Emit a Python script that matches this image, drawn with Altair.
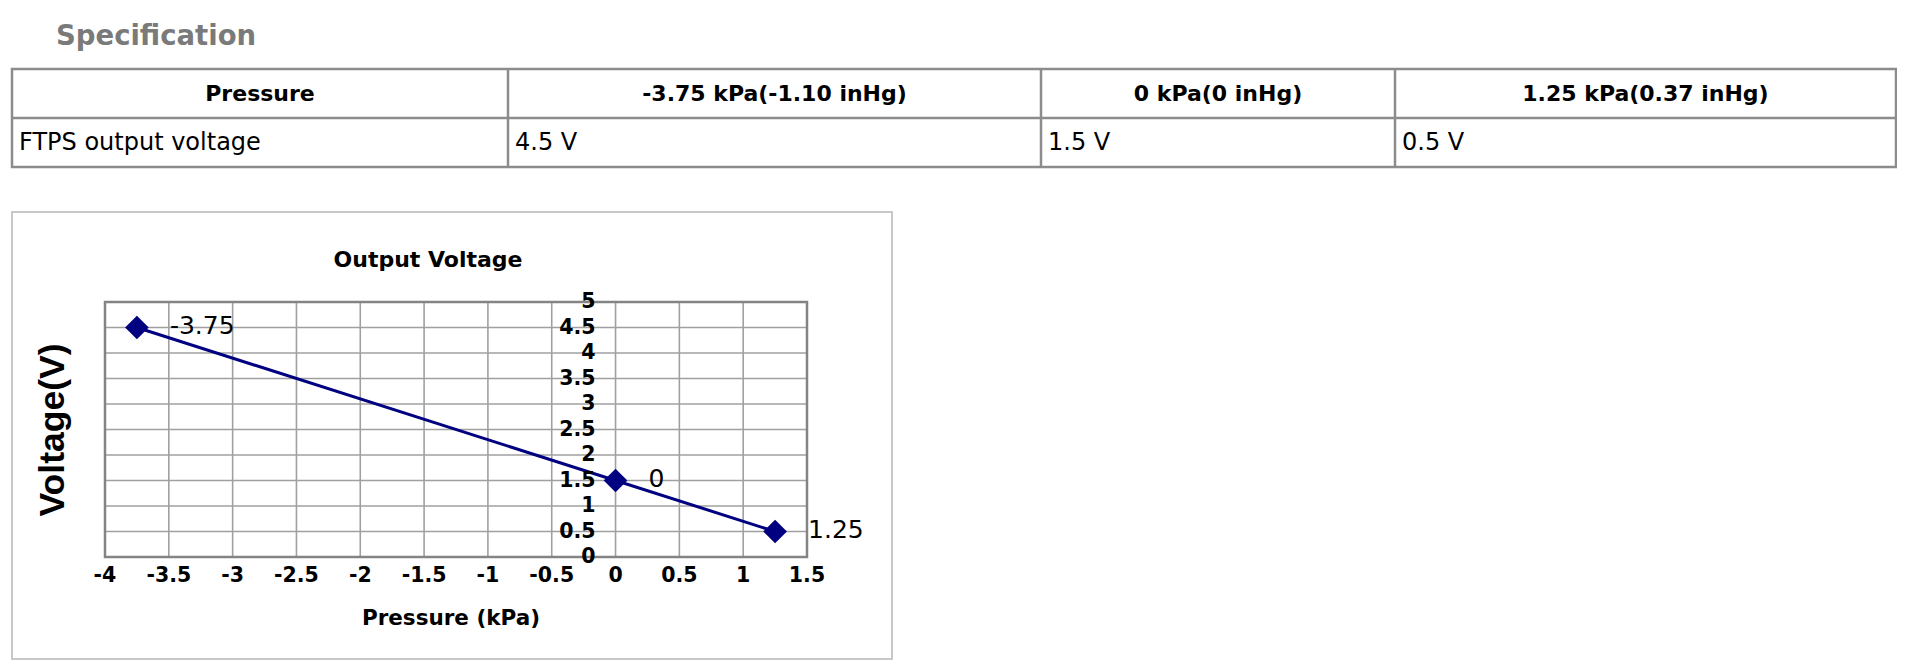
import altair as alt
import pandas as pd

# ---------------- data ----------------
PAGE_TITLE = "Specification"
TABLE_HEADER = ["Pressure", "-3.75 kPa(-1.10 inHg)", "0 kPa(0 inHg)", "1.25 kPa(0.37 inHg)"]
TABLE_ROW = ["FTPS output voltage", "4.5 V", "1.5 V", "0.5 V"]

CHART_TITLE = "Output Voltage"
X_TITLE = "Pressure (kPa)"
Y_TITLE = "Voltage(V)"
PRESSURE_KPA = [-3.75, 0.0, 1.25]
VOLTAGE_V = [4.5, 1.5, 0.5]
POINT_LABELS = ["-3.75", "0", "1.25"]
X_TICKS = [-4, -3.5, -3, -2.5, -2, -1.5, -1, -0.5, 0, 0.5, 1, 1.5]
X_TICK_LABELS = ["-4", "-3.5", "-3", "-2.5", "-2", "-1.5", "-1", "-0.5", "0", "0.5", "1", "1.5"]
Y_TICKS = [0, 0.5, 1, 1.5, 2, 2.5, 3, 3.5, 4, 4.5, 5]
Y_TICK_LABELS = ["0", "0.5", "1", "1.5", "2", "2.5", "3", "3.5", "4", "4.5", "5"]

# ---------------- layout (page pixels) ----------------
PLOT_LEFT, PLOT_TOP, PLOT_W, PLOT_H = 105, 302, 702, 255
SVG_W, SVG_H = 1889, 652
MARGIN = 8
COL_EDGES = [12, 508, 1041, 1395, 1896]
ROW_EDGES = [69, 118, 167]
FRAME = [12, 212, 892, 659]

FONT = "DejaVu Sans"
NAVY = "#000080"
TABLE_LINE = "#8c8c8c"
GRID = "#a0a0a0"


def rx(px):
    return px - PLOT_LEFT


def ry(py):
    return py - PLOT_TOP


one = pd.DataFrame({"k": [0]})
layers = []

# chart frame
layers.append(
    alt.Chart(one).mark_rect(filled=False, stroke="#c8c8c8", strokeWidth=2).encode(
        x=alt.value(rx(FRAME[0])), x2=alt.value(rx(FRAME[2])),
        y=alt.value(ry(FRAME[1])), y2=alt.value(ry(FRAME[3])),
    )
)

# page title
layers.append(
    alt.Chart(one).mark_text(font=FONT, fontSize=27.5, fontWeight="bold", color="#7a7a7a",
                             align="left", baseline="alphabetic").encode(
        x=alt.value(rx(56)), y=alt.value(ry(45)), text=alt.value(PAGE_TITLE)
    )
)

# table outer border
layers.append(
    alt.Chart(one).mark_rect(filled=False, stroke=TABLE_LINE, strokeWidth=2.5).encode(
        x=alt.value(rx(COL_EDGES[0])), x2=alt.value(rx(COL_EDGES[-1])),
        y=alt.value(ry(ROW_EDGES[0])), y2=alt.value(ry(ROW_EDGES[-1])),
    )
)
# row separator
layers.append(
    alt.Chart(one).mark_rule(color=TABLE_LINE, strokeWidth=2.5).encode(
        x=alt.value(rx(COL_EDGES[0])), x2=alt.value(rx(COL_EDGES[-1])),
        y=alt.value(ry(ROW_EDGES[1])),
    )
)
# column separators
for cx in COL_EDGES[1:-1]:
    layers.append(
        alt.Chart(one).mark_rule(color=TABLE_LINE, strokeWidth=2.5).encode(
            x=alt.value(rx(cx)),
            y=alt.value(ry(ROW_EDGES[0])), y2=alt.value(ry(ROW_EDGES[-1])),
        )
    )
# header texts
for i, txt in enumerate(TABLE_HEADER):
    cxm = (COL_EDGES[i] + COL_EDGES[i + 1]) / 2
    layers.append(
        alt.Chart(one).mark_text(font=FONT, fontSize=22, fontWeight="bold", color="#000000",
                                 align="center", baseline="alphabetic").encode(
            x=alt.value(rx(cxm)), y=alt.value(ry(101)), text=alt.value(txt)
        )
    )
# row texts
for i, txt in enumerate(TABLE_ROW):
    layers.append(
        alt.Chart(one).mark_text(font=FONT, fontSize=24, color="#000000",
                                 align="left", baseline="alphabetic").encode(
            x=alt.value(rx(COL_EDGES[i] + 7)), y=alt.value(ry(150)), text=alt.value(txt)
        )
    )

# chart title and axis titles
layers.append(
    alt.Chart(one).mark_text(font=FONT, fontSize=22, fontWeight="bold", color="#000000",
                             align="center", baseline="alphabetic").encode(
        x=alt.value(rx(428)), y=alt.value(ry(267)), text=alt.value(CHART_TITLE)
    )
)
layers.append(
    alt.Chart(one).mark_text(font=FONT, fontSize=21.5, fontWeight="bold", color="#000000",
                             align="center", baseline="alphabetic").encode(
        x=alt.value(rx(451)), y=alt.value(ry(625)), text=alt.value(X_TITLE)
    )
)
layers.append(
    alt.Chart(one).mark_text(font="Liberation Sans", fontSize=35.5, fontWeight="bold",
                             color="#000000", align="center", baseline="middle",
                             angle=270).encode(
        x=alt.value(rx(53)), y=alt.value(ry(430)), text=alt.value(Y_TITLE)
    )
)

# ---------------- the plot ----------------
xscale = alt.Scale(domain=[-4, 1.5], nice=False, zero=False)
yscale = alt.Scale(domain=[0, 5], nice=False, zero=False)

xt = pd.DataFrame({"t": X_TICKS, "lab": X_TICK_LABELS})
yt = pd.DataFrame({"t": Y_TICKS, "lab": Y_TICK_LABELS})

# grid lines
layers.append(
    alt.Chart(xt).mark_rule(color=GRID, strokeWidth=1.6).encode(
        x=alt.X("t:Q", scale=xscale, axis=None)
    )
)
layers.append(
    alt.Chart(yt).mark_rule(color=GRID, strokeWidth=1.6).encode(
        y=alt.Y("t:Q", scale=yscale, axis=None)
    )
)

df = pd.DataFrame({"p": PRESSURE_KPA, "v": VOLTAGE_V, "lab": POINT_LABELS})
base = alt.Chart(df).encode(
    x=alt.X("p:Q", scale=xscale, axis=None),
    y=alt.Y("v:Q", scale=yscale, axis=None),
)

# plot border
layers.append(
    alt.Chart(one).mark_rect(filled=False, stroke="#848484", strokeWidth=2.5).encode(
        x=alt.XDatum(-4, scale=xscale, axis=None), x2=alt.X2Datum(1.5),
        y=alt.YDatum(0, scale=yscale, axis=None), y2=alt.Y2Datum(5),
    )
)

layers.append(base.mark_line(color=NAVY, strokeWidth=3))
layers.append(base.mark_point(shape="diamond", size=560, filled=True, color=NAVY, opacity=1))
layers.append(
    base.mark_text(font=FONT, fontSize=25, color="#000000", align="left",
                   baseline="middle", dx=33, dy=-2).encode(text="lab:N")
)

# x tick labels under the bottom edge
layers.append(
    alt.Chart(xt).mark_text(font=FONT, fontSize=20.5, fontWeight="bold", color="#000000",
                            align="center", baseline="top", dy=9).encode(
        x=alt.X("t:Q", scale=xscale, axis=None),
        y=alt.YDatum(0, scale=yscale, axis=None),
        text="lab:N",
    )
)
# y tick labels at the x = 0 crossing
layers.append(
    alt.Chart(yt).mark_text(font=FONT, fontSize=20.5, fontWeight="bold", color="#000000",
                            align="right", baseline="middle", dx=-20).encode(
        x=alt.XDatum(0, scale=xscale, axis=None),
        y=alt.Y("t:Q", scale=yscale, axis=None),
        text="lab:N",
    )
)

pad_left = PLOT_LEFT - MARGIN
pad_top = PLOT_TOP - MARGIN
chart = alt.layer(*layers).properties(
    width=PLOT_W,
    height=PLOT_H,
    padding={"left": pad_left, "top": pad_top,
             "right": SVG_W - pad_left - PLOT_W, "bottom": SVG_H - pad_top - PLOT_H},
    autosize=alt.AutoSizeParams(type="none"),
).configure(background="#ffffff").configure_view(strokeWidth=0)

chart.save("out.html", embed_options={"renderer": "svg", "actions": False})
